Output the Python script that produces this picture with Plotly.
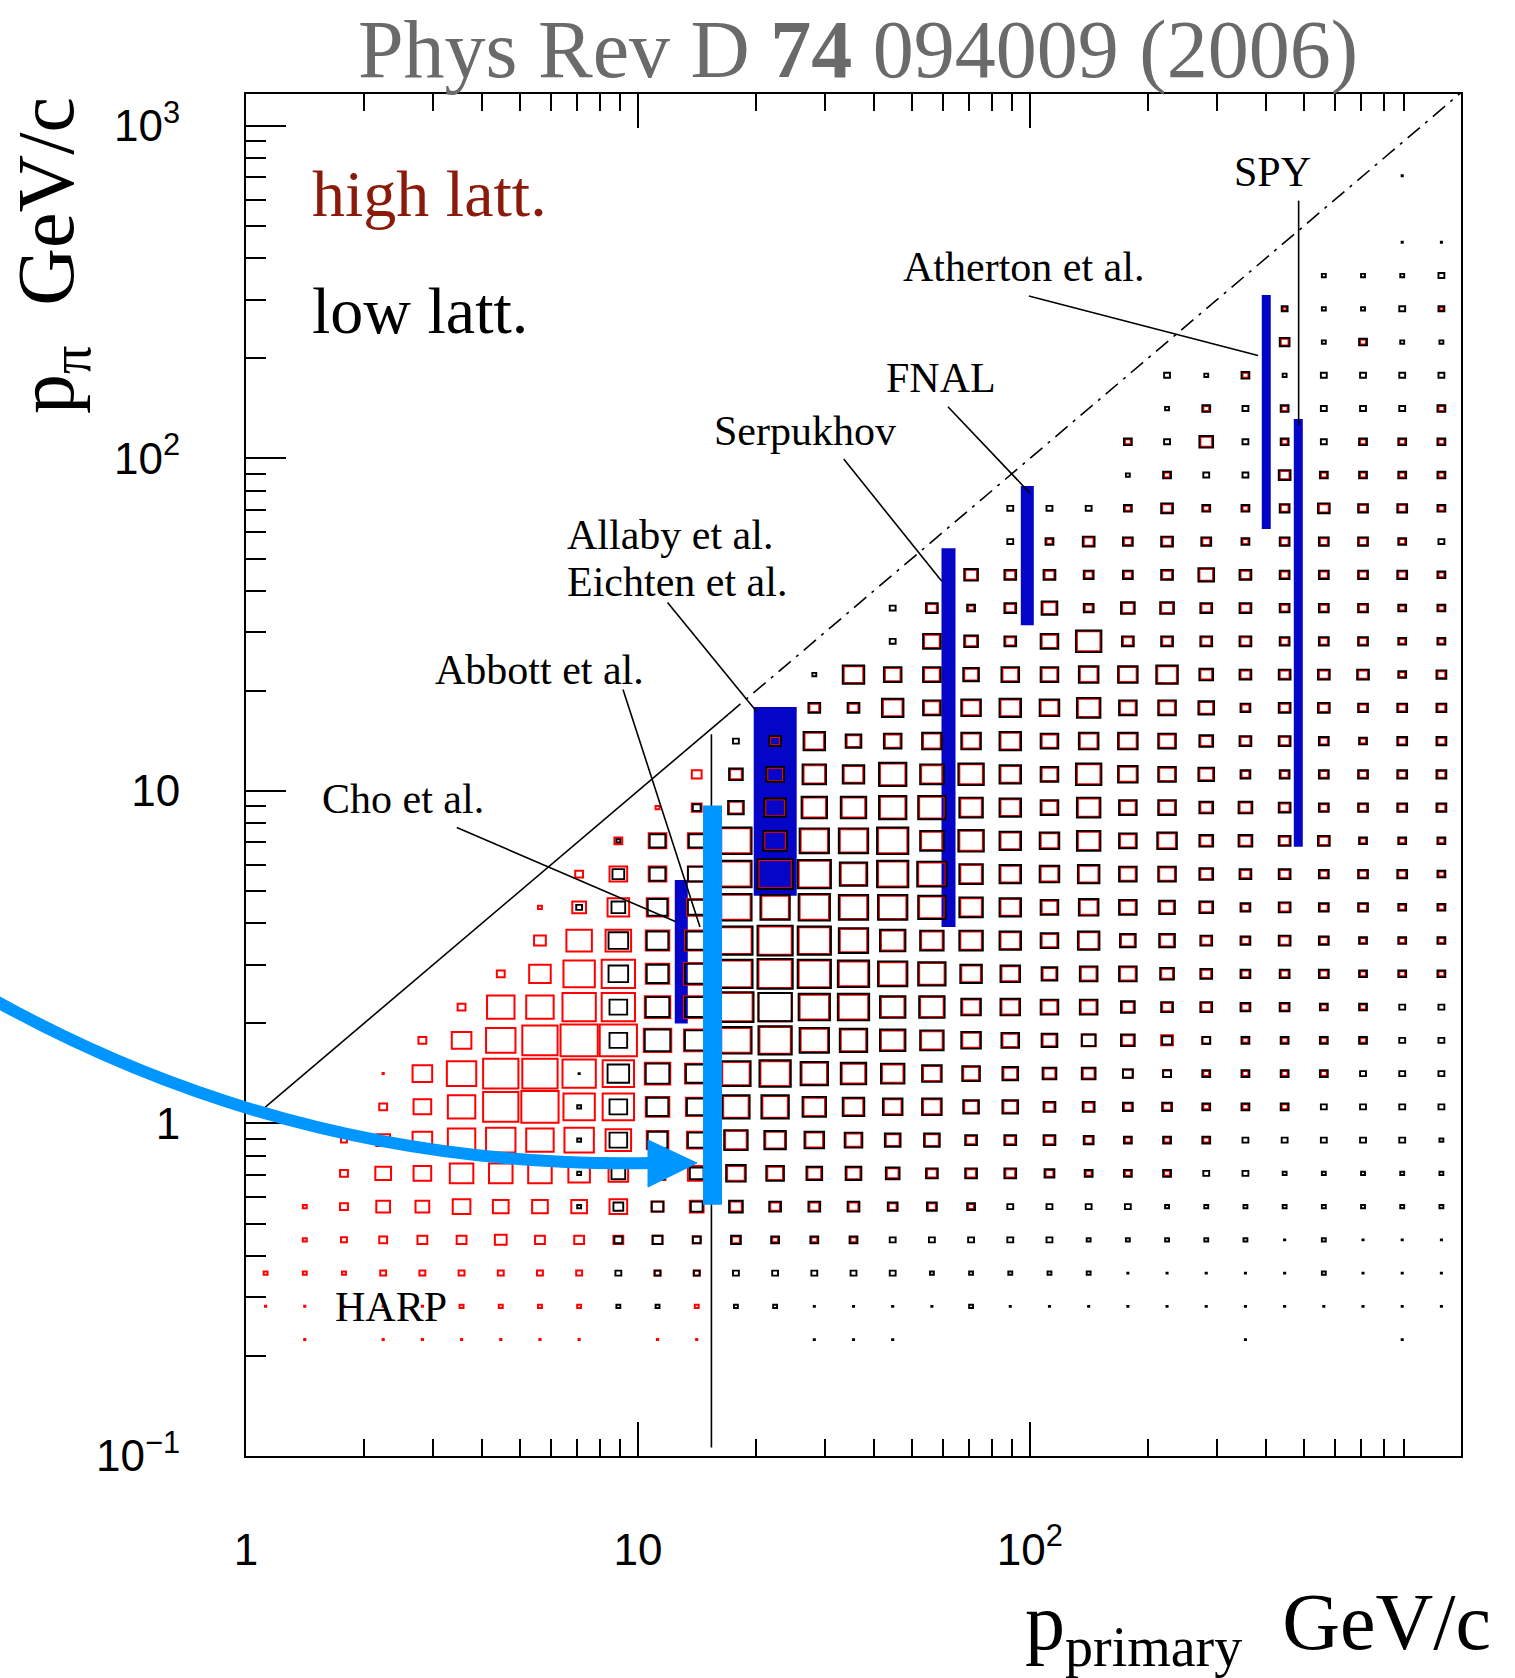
import plotly.graph_objects as go

W, H = 1515, 1678
# plot-area frame in page pixels (used only to place decorations in paper units)
FL, FR, FT, FB = 246, 1461, 94, 1456

# ------------------------------------------------------------------ data
# log10 of the bin centres of the 2-D lattice (p_primary along x, p_pi along y)
LOG_P_PRIMARY = [0.05, 0.15, 0.25, 0.35, 0.45, 0.55, 0.65, 0.75, 0.85, 0.95,
                 1.05, 1.15, 1.25, 1.35, 1.45, 1.55, 1.65, 1.75, 1.85, 1.95,
                 2.05, 2.15, 2.25, 2.35, 2.45, 2.55, 2.65, 2.75, 2.85, 2.95, 3.05]
LOG_P_PI = [-0.65, -0.55, -0.45, -0.35, -0.25, -0.15, -0.05, 0.05, 0.15, 0.25,
            0.35, 0.45, 0.55, 0.65, 0.75, 0.85, 0.95, 1.05, 1.15, 1.25,
            1.35, 1.45, 1.55, 1.65, 1.75, 1.85, 1.95, 2.05, 2.15, 2.25,
            2.35, 2.45, 2.55, 2.65, 2.75, 2.85]

# box size per bin (base-36 digit, 20 = full bin, '.' = empty); one row per p_pi bin,
# lowest p_pi first; columns follow LOG_P_PRIMARY (grouped by 5)
LOW_LATT = [
    "..... ..... ....1 11... ..... 1...1 .",
    "..... ....2 2.221 11121 11111 11111 1",
    "..... ....3 33333 33222 22111 11211 1",
    "..... ....4 54544 43333 32222 21211 1",
    "..... ...25 66766 65543 33322 22222 2",
    "..... ...27 77a98 87666 54443 32222 2",
    "..... ...29 a9cba 98866 65444 33333 2",
    "..... ...29 baeec baa88 66554 44333 3",
    "..... ...1b cbfge dca98 77544 44433 3",
    "..... ....9 dcghf edca9 87754 44443 3",
    "..... ....9 ccihg gddaa 99766 55443 3",
    "..... ....a bchih gfeba 89976 55544 4",
    "..... ....a bbhih fdccb 9b886 56544 4",
    "..... ...37 a9gfg ffecb 9a987 56554 4",
    "..... ....6 89gih egfcb ab997 66555 4",
    "..... ....2 88gcf fgcdb ac9a7 76644 4",
    "..... ..... .48bd deecb 9c997 76555 5",
    "..... ..... ..79c becdb 9da98 55555 5",
    "..... ..... ..36b 89aab 9aa97 66545 5",
    "..... ..... ....6 6b9ab ac998 56655 5",
    "..... ..... ....2 b9989 9aab7 66664 5",
    "..... ..... ..... .3976 9d666 65554 4",
    "..... ..... ..... .3646 85776 65554 4",
    "..... ..... ..... ...76 65568 65555 4",
    "..... ..... ..... ....3 46565 45554 3",
    "..... ..... ..... ....3 33464 45655 4",
    "..... ..... ..... ..... ..243 36444 4",
    "..... ..... ..... ..... ..437 34344 4",
    "..... ..... ..... ..... ...24 34333 4",
    "..... ..... ..... ..... ...32 42333 3",
    "..... ..... ..... ..... ..... .5242 2",
    "..... ..... ..... ..... ..... .3223 3",
    "..... ..... ..... ..... ..... ..222 3",
    "..... ..... ..... ..... ..... ....1 1",
    "..... ..... ..... ..... ..... ..... .",
    "..... ..... ..... ..... ..... ....1 .",
]
HIGH_LATT = [
    ".1.11 1111. 11... ..... ..... ..... .",
    "11111 2222. .2... ..... ..... ..... .",
    "22233 3333. 33... ..... ..... ..... .",
    ".2345 56555 54433 3.... ..... ..... .",
    ".2477 98889 67655 5443. ..... ..... .",
    "..489 cccba 89987 76555 4333. ..... .",
    "..37a efefd baba9 87755 54333 ..... .",
    "...49 eijgg cbddb a9977 55443 33... .",
    "...1a fiihg dcefd cb987 66543 333.. .",
    "....4 afijj edfge dcb98 77664 3333. .",
    "..... 4eehh ddhhf fcc99 88655 4433. .",
    "..... .4bgh cdghg feda9 78865 44433 3",
    "..... ..6dd ccghg ecbba 8a775 45433 3",
    "..... ..27b bafef eedba 89876 45443 3",
    "..... ...49 99fhg dfeba 9a886 55444 3",
    "..... ....4 99fbe efbca 9b896 65533 3",
    "..... ..... 257ac cddba 8b886 65444 4",
    "..... ..... .568b adbca 8c987 44444 4",
    "..... ..... ...5a 7899a 89986 55434 4",
    "..... ..... ....5 5a89a 9b887 45544 4",
    "..... ..... ..... a8878 899a6 55553 4",
    "..... ..... ..... ..865 8c555 54443 3",
    "..... ..... ..... ..535 74665 54443 3",
    "..... ..... ..... ...65 54457 54444 3",
    "..... ..... ..... ..... 35454 34443 .",
    "..... ..... ..... ..... ..353 34544 3",
    "..... ..... ..... ..... ...3. .5333 3",
    "..... ..... ..... ..... ..3.6 .3.33 3",
    "..... ..... ..... ..... ....3 .3... 3",
    "..... ..... ..... ..... ..... 3.... .",
    "..... ..... ..... ..... ..... .4.3. .",
    "..... ..... ..... ..... ..... .2... 2",
    "..... ..... ..... ..... ..... ..... .",
    "..... ..... ..... ..... ..... ..... .",
    "..... ..... ..... ..... ..... ..... .",
    "..... ..... ..... ..... ..... ..... .",
]

# experiments: p_primary (GeV/c), p_pi range (GeV/c)
EXP_NAMES = ["Cho et al.", "Allaby/Eichten", "Serpukhov", "FNAL", "Atherton et al.", "SPY"]
EXP_P_PRIMARY = [12.9, 22.4, 62.0, 98.5, 401.0, 484.0]
EXP_P_PI_MIN = [2.0, 4.84, 3.9, 31.5, 61.4, 6.8]
EXP_P_PI_MAX = [5.4, 17.9, 53.7, 82.6, 310.0, 131.5]
EXP_BAR_PX = [13, 43, 14, 13, 9, 9]

HARP_P_PRIMARY = 15.5
HARP_P_PI = [0.57, 9.04]
HARP_LINE_P = 15.4
HARP_LINE_P_PI = [0.106, 14.8]

# leader lines: (from label) -> (to measurement), in GeV/c
LEADERS = [
    ((3.45, 7.76), (12.5, 4.04)),     # Cho
    ((9.16, 20.2), (14.4, 3.90)),     # Abbott
    ((11.9, 36.9), (20.1, 17.3)),     # Allaby / Eichten
    ((33.5, 99.6), (59.6, 42.7)),     # Serpukhov
    ((61.8, 143.0), (100.0, 78.7)),   # FNAL
    ((99.4, 308.0), (382.0, 204.0)),  # Atherton
    ((485.0, 596.0), (485.0, 126.0)), # SPY
]

# kinematic limit p_pi = p_primary
KIN_SOLID = [1.12, 17.0]
KIN_DASHED = [17.0, 1300.0]

DARK_BLUE = "#0505c8"
LIGHT_BLUE = "#0096ff"
RED = "#ff0000"
DARK_RED = "#8c1a0a"


def decode(rows):
    out = []
    for r in rows:
        s = r.replace(" ", "")
        assert len(s) == 31, (r, len(s))
        out.append([0 if c == "." else int(c, 36) for c in s])
    return out


def box_outline(codes):
    xs, ys = [], []
    for j, row in enumerate(codes):
        for m, v in enumerate(row):
            if v == 0:
                continue
            f = 0.03 if v == 1 else v / 20.0
            h = 0.05 * f
            cx, cy = LOG_P_PRIMARY[m], LOG_P_PI[j]
            x0, x1 = 10 ** (cx - h), 10 ** (cx + h)
            y0, y1 = 10 ** (cy - h), 10 ** (cy + h)
            xs += [x0, x1, x1, x0, x0, x1, None]
            ys += [y0, y0, y1, y1, y0, y0, None]
    return xs, ys


def px(x):
    return (x - FL) / (FR - FL)


def py(y):
    return (FB - y) / (FB - FT)


fig = go.Figure()

# dark-blue measurement bars (below the boxes)
for name, p, lo, hi, w in zip(EXP_NAMES, EXP_P_PRIMARY, EXP_P_PI_MIN, EXP_P_PI_MAX, EXP_BAR_PX):
    fig.add_trace(go.Scatter(x=[p, p], y=[lo, hi], mode="lines",
                             line=dict(color=DARK_BLUE, width=w), hoverinfo="skip"))

# box histograms: high lattitude (red) below, low lattitude (black) on top
rx, ry = box_outline(decode(HIGH_LATT))
fig.add_trace(go.Scatter(x=rx, y=ry, mode="lines", line=dict(color=RED, width=2.0),
                         hoverinfo="skip"))
bx, by = box_outline(decode(LOW_LATT))
fig.add_trace(go.Scatter(x=bx, y=by, mode="lines", line=dict(color="black", width=1.9),
                         hoverinfo="skip"))

# kinematic limit and HARP line
fig.add_trace(go.Scatter(x=KIN_SOLID, y=KIN_SOLID, mode="lines",
                         line=dict(color="black", width=1.6), hoverinfo="skip"))
fig.add_trace(go.Scatter(x=KIN_DASHED, y=KIN_DASHED, mode="lines",
                         line=dict(color="black", width=1.6, dash="16px,7px,3px,7px"),
                         hoverinfo="skip"))
fig.add_trace(go.Scatter(x=[HARP_LINE_P, HARP_LINE_P], y=HARP_LINE_P_PI, mode="lines",
                         line=dict(color="black", width=1.6), hoverinfo="skip"))

# HARP bar
fig.add_trace(go.Scatter(x=[HARP_P_PRIMARY, HARP_P_PRIMARY], y=HARP_P_PI, mode="lines",
                         line=dict(color=LIGHT_BLUE, width=19), hoverinfo="skip"))

# leader lines
for (a, b) in LEADERS:
    fig.add_trace(go.Scatter(x=[a[0], b[0]], y=[a[1], b[1]], mode="lines",
                             line=dict(color="black", width=1.6), hoverinfo="skip"))

# ------------------------------------------------------------------ text
serif = "Liberation Serif"
ann = []


def label(text, x, y, size=42, color="black", xanchor="center", **kw):
    ann.append(dict(text=text, x=px(x), y=py(y), xref="paper", yref="paper",
                    xanchor=xanchor, yanchor="middle", showarrow=False,
                    font=dict(family=serif, size=size, color=color), **kw))


label("Phys Rev D <b>74</b> 094009 (2006)", 858, 50, size=82, color="#6a6a6a")
label("high latt.", 310, 193, size=66, color=DARK_RED, xanchor="left")
label("low latt.", 310, 310, size=66, color="black", xanchor="left")
label("SPY", 1272, 172)
label("Atherton et al.", 1024, 267)
label("FNAL", 941, 378)
label("Serpukhov", 805, 431)
label("Allaby et al.", 565, 535, xanchor="left")
label("Eichten et al.", 565, 582, xanchor="left")
label("Abbott et al.", 539, 670)
label("Cho et al.", 403, 799)
label("HARP", 391, 1307)
label("p<sub>primary</sub>  GeV/c", 1493, 1628, size=80, xanchor="right")
label("p<sub>π</sub>  GeV/c", 52, 256, size=80, textangle=-90)

# ------------------------------------------------------------------ arrow
p0 = (px(-6), py(1000))
p1 = (px(300), py(1170))
p2 = (px(652), py(1163))
shapes = [
    dict(type="path", xref="paper", yref="paper",
         path=f"M {p0[0]},{p0[1]} Q {p1[0]},{p1[1]} {p2[0]},{p2[1]}",
         line=dict(color=LIGHT_BLUE, width=12), fillcolor="rgba(0,0,0,0)", layer="above"),
    dict(type="path", xref="paper", yref="paper",
         path=(f"M {px(648)},{py(1140)} L {px(697)},{py(1163)} "
               f"L {px(648)},{py(1187)} Z"),
         line=dict(color=LIGHT_BLUE, width=1), fillcolor=LIGHT_BLUE, layer="above"),
]

minor_x = [v * d for d in (1, 10, 100) for v in range(2, 10)]
minor_y = [v * d for d in (0.1, 1, 10, 100) for v in range(2, 10)]

fig.update_layout(
    width=W, height=H,
    margin=dict(l=FL, r=W - FR, t=FT, b=H - FB),
    paper_bgcolor="white", plot_bgcolor="white",
    showlegend=False,
    annotations=ann,
    shapes=shapes,
    xaxis=dict(type="log", range=[0, 3.1], showgrid=False, zeroline=False,
               showline=True, linecolor="black", linewidth=2, mirror="ticks",
               ticks="inside", ticklen=34, tickwidth=1.8, tickcolor="black",
               tickvals=[1, 10, 100], ticktext=["1", "10", "10<sup>2</sup>"],
               tickfont=dict(family="Liberation Sans", size=44, color="black"),
               ticklabelstandoff=54, automargin=False,
               minor=dict(tickvals=minor_x, ticks="inside", ticklen=17, tickwidth=1.8,
                          tickcolor="black", showgrid=False)),
    yaxis=dict(type="log", range=[-1, 3.096], showgrid=False, zeroline=False,
               showline=True, linecolor="black", linewidth=2, mirror=True,
               ticks="inside", ticklen=40, tickwidth=1.8, tickcolor="black",
               tickvals=[0.1, 1, 10, 100, 1000],
               ticktext=["10<sup>−1</sup>", "1", "10", "10<sup>2</sup>", "10<sup>3</sup>"],
               tickfont=dict(family="Liberation Sans", size=44, color="black"),
               ticklabelstandoff=55, automargin=False,
               minor=dict(tickvals=minor_y, ticks="inside", ticklen=20, tickwidth=1.8,
                          tickcolor="black", showgrid=False)),
)

fig.write_html("out.html", config={"displayModeBar": False},
               post_script="document.body.style.margin='0px';")
